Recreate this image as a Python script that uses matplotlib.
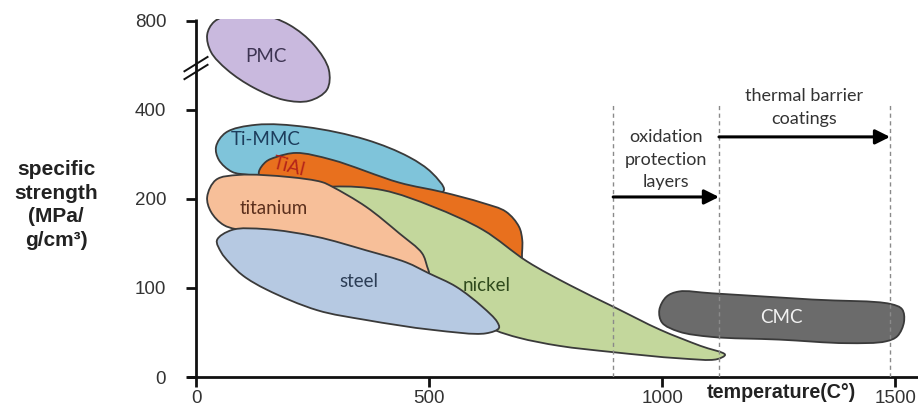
import numpy as np
import matplotlib
matplotlib.use("Agg")
import matplotlib.pyplot as plt
from matplotlib.path import Path
from matplotlib.patches import PathPatch

# Material classes: outline of each region (temperature in °C, specific strength in MPa/(g/cm³))
pmc_t = [24, 39, 82, 135, 200, 253, 285, 281, 243, 189, 124, 67, 32]
pmc_s = [718, 794, 845, 845, 775, 663, 546, 468, 429, 432, 475, 546, 628]

timmc_t = [43, 64, 129, 236, 365, 457, 506, 532, 500, 393, 221, 114, 77, 49]
timmc_s = [300, 335, 356, 350, 317, 277, 245, 214, 205, 214, 232, 241, 247, 271]

tial_t = [135, 150, 172, 215, 292, 436, 528, 614, 665, 693, 700, 700, 704, 650, 543, 436, 285, 178, 139]
tial_s = [247, 267, 277, 286, 271, 227, 211, 194, 181, 161, 145, 124, 121, 123, 151, 180, 200, 214, 232]

nickel_t = [221, 294, 401, 509, 616, 710, 803, 899, 996, 1082, 1135, 1118, 1036, 893, 779, 693,
            640, 564, 479, 371, 264]
nickel_s = [211, 220, 214, 188, 157, 123, 102, 78, 53, 35, 25, 20, 21, 28, 35, 44, 53, 75, 106, 145, 194]

titanium_t = [24, 43, 92, 200, 270, 292, 365, 436, 485, 496, 500, 496, 436, 328, 221, 114, 60, 32]
titanium_s = [203, 232, 241, 237, 228, 220, 188, 153, 131, 118, 112, 108, 117, 132, 145, 155, 163, 181]

steel_t = [45, 77, 150, 258, 365, 451, 500, 558, 614, 646, 650, 622, 506, 365, 260, 152, 101, 71, 54]
steel_s = [145, 157, 158, 149, 134, 122, 112, 101, 79, 62, 55, 49, 53, 64, 75, 98, 110, 122, 132]

cmc_t = [994, 1009, 1036, 1107, 1322, 1490, 1515, 1519, 1505, 1480, 1395, 1251, 1107, 1036, 1000]
cmc_s = [75, 90, 96, 94, 87, 82, 76, 62, 46, 40, 38, 42, 45, 51, 61]

region_names = ["PMC", "Ti-MMC", "TiAl", "nickel", "titanium", "steel", "CMC"]
label_t = [150, 150, 200, 624, 167, 350, 1255]
label_s = [605, 317, 258, 102, 186, 105, 67]

# Coating temperature ranges
coating_bounds = [895, 1122, 1489]
coating_names = ["oxidation\nprotection\nlayers", "thermal barrier\ncoatings"]

x_ticks = [0, 500, 1000, 1500]
y_ticks = [0, 100, 200, 400, 800]

fig = plt.figure(figsize=(9.18, 4.13), dpi=100)
ax = fig.add_axes([196 / 918, 36 / 413, 722 / 918, 358 / 413])
ax.set_yscale("symlog", base=2, linthresh=100, linscale=0.5)
ax.set_xlim(0, 1549)
ax.set_ylim(0, 811)

ytr = ax.yaxis.get_transform()
# rough pixel size of one unit along each axis, used to space spline knots evenly on screen
SX, SY = 0.466, 0.891


def to_scaled(v):
    return ytr.transform(np.asarray(v, float).reshape(-1, 1)).ravel()


def from_scaled(v):
    return ytr.inverted().transform(np.asarray(v, float).reshape(-1, 1)).ravel()


def blob(xs, ys):
    """Closed smooth outline: centripetal Catmull-Rom turned into cubic Beziers."""
    p = np.column_stack([np.asarray(xs, float) * SX, to_scaled(ys) * SY])
    n = len(p)
    verts = [p[0]]
    codes = [Path.MOVETO]
    for i in range(n):
        p0, p1, p2, p3 = p[i - 1], p[i], p[(i + 1) % n], p[(i + 2) % n]
        d1 = max(np.hypot(*(p1 - p0)), 1e-6) ** 0.5
        d2 = max(np.hypot(*(p2 - p1)), 1e-6) ** 0.5
        d3 = max(np.hypot(*(p3 - p2)), 1e-6) ** 0.5
        c1 = (d1 ** 2 * p2 - d2 ** 2 * p0 + (2 * d1 ** 2 + 3 * d1 * d2 + d2 ** 2) * p1) / (3 * d1 * (d1 + d2))
        c2 = (d3 ** 2 * p1 - d2 ** 2 * p3 + (2 * d3 ** 2 + 3 * d3 * d2 + d2 ** 2) * p2) / (3 * d3 * (d3 + d2))
        verts += [c1, c2, p2]
        codes += [Path.CURVE4] * 3
    verts.append(p[0])
    codes.append(Path.CLOSEPOLY)
    verts = np.array(verts)
    verts[:, 0] = verts[:, 0] / SX
    verts[:, 1] = from_scaled(verts[:, 1] / SY)
    return Path(verts, codes)


regions = [
    (pmc_t, pmc_s, "#c9b9de"),
    (timmc_t, timmc_s, "#7fc4da"),
    (tial_t, tial_s, "#e8701e"),
    (nickel_t, nickel_s, "#c3d79c"),
    (titanium_t, titanium_s, "#f7bf99"),
    (steel_t, steel_s, "#b6c9e2"),
    (cmc_t, cmc_s, "#6b6b6b"),
]
for z, (xs, ys, col) in enumerate(regions):
    ax.add_patch(PathPatch(blob(xs, ys), facecolor=col, edgecolor="#3a3a3a",
                           lw=1.3, zorder=2 + z * 0.1))

label_colors = ["#3d3452", "#1d3d5c", "#b3231a", "#2f4a1c", "#5b2f1c", "#2c3d55", "#f2f2f2"]
label_rot = [0, 0, -14, 0, 0, 0, 0]
for name, tx, sy, c, r in zip(region_names, label_t, label_s, label_colors, label_rot):
    ax.text(tx, sy, name, ha="center", va="center", color=c, rotation=r,
            fontsize=13.5, family="Lato", zorder=5)

# Coating ranges: dashed bounds, arrows and captions
for xb in coating_bounds:
    ax.plot([xb, xb], [0, 420], ls=(0, (3, 2.5)), color="#8a8a8a", lw=1.0, zorder=4)

arrow_s = [203, 324]
caption_s = [271, 408]
for i, name in enumerate(coating_names):
    x0, x1 = coating_bounds[i], coating_bounds[i + 1]
    ax.annotate("", xy=(x1, arrow_s[i]), xytext=(x0, arrow_s[i]),
                arrowprops=dict(arrowstyle="-|>", lw=2.2, color="black",
                                mutation_scale=22, shrinkA=0, shrinkB=0), zorder=6)
    ax.text((x0 + x1) / 2, caption_s[i], name, ha="center", va="center",
            fontsize=13, family="Lato", color="#333333", linespacing=1.5, zorder=6)

# Axes styling
for side in ("top", "right"):
    ax.spines[side].set_visible(False)
for side in ("left", "bottom"):
    ax.spines[side].set_linewidth(2.0)
    ax.spines[side].set_color("#111111")
    ax.spines[side].set_capstyle("butt")
ax.spines["bottom"].set_bounds(-20, 1549)

ax.set_xticks(x_ticks)
ax.set_xticklabels([str(v) for v in x_ticks])
ax.set_yticks(y_ticks)
ax.set_yticklabels([str(v) for v in y_ticks])
ax.yaxis.set_minor_locator(matplotlib.ticker.NullLocator())
ax.xaxis.set_minor_locator(matplotlib.ticker.NullLocator())
ax.tick_params(axis="both", direction="out", length=7.5, width=2.0, color="#111111",
               labelsize=13.5, labelcolor="#333333")
ax.tick_params(axis="y", pad=14)
ax.tick_params(axis="x", pad=2)
for lab in ax.get_xticklabels() + ax.get_yticklabels():
    lab.set_family("Liberation Sans")
ax.patch.set_visible(False)

# Axis break marks on the strength axis
bx, by = 0.0, 0.863
for off in (-0.011, 0.011):
    ax.plot([bx - 0.016, bx + 0.016], [by + off - 0.02, by + off + 0.02],
            transform=ax.transAxes, color="#111111", lw=1.4, clip_on=False, zorder=7)

ax.annotate("temperature(C°)", xy=(1255, 0), xycoords=("data", "axes fraction"),
            xytext=(0, -11.5), textcoords="offset points", ha="center", va="center",
            fontsize=14.2, fontweight="bold", family="Liberation Sans", color="#222222")

fig.text(56 / 918, 1 - 205 / 413, "specific\nstrength\n(MPa/\ng/cm³)", ha="center",
         va="center", fontsize=15, fontweight="bold", family="Liberation Sans",
         color="#222222", linespacing=1.3)

fig.savefig("out.png", dpi=100)
